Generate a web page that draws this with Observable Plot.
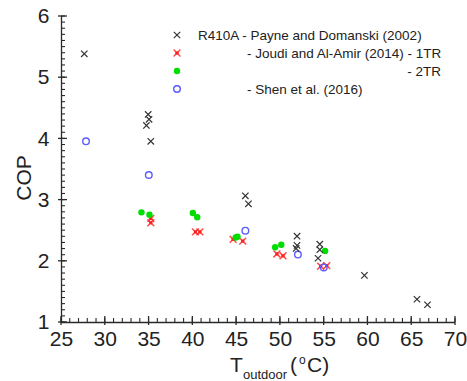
<!DOCTYPE html>
<html><head><meta charset="utf-8">
<script src="https://cdn.jsdelivr.net/npm/d3@7"></script>
<script src="https://cdn.jsdelivr.net/npm/@observablehq/plot@0.6"></script>
<style>
html,body{margin:0;padding:0;background:#fff;}
#chart{width:467px;height:381px;}
svg{display:block;}
</style></head><body><div id="chart"></div>
<script>
// Payne and Domanski (2002) - R410A
const payneT   = [27.6, 34.9, 35.0, 34.7, 35.2, 46.0, 46.35, 51.9, 51.9, 51.8, 54.5, 54.5, 54.3, 59.6, 65.6, 66.8];
const payneCOP = [5.39, 4.40, 4.32, 4.22, 3.96, 3.07, 2.94, 2.41, 2.26, 2.21, 2.28, 2.19, 2.05, 1.77, 1.38, 1.29];
// Joudi and Al-Amir (2014) - 1TR
const joudi1T   = [35.2, 35.2, 40.3, 40.8, 44.6, 45.7, 49.6, 50.3, 54.6, 55.3];
const joudi1COP = [2.70, 2.63, 2.48, 2.48, 2.36, 2.33, 2.12, 2.09, 1.92, 1.93];
// Joudi and Al-Amir (2014) - 2TR
const joudi2T   = [34.13, 35.05, 40.0, 40.5, 44.9, 45.1, 49.4, 50.1, 55.1];
const joudi2COP = [2.80, 2.76, 2.79, 2.72, 2.39, 2.40, 2.23, 2.27, 2.17];
// Shen et al. (2016)
const shenT   = [27.8, 34.97, 46.0, 52.0, 54.95];
const shenCOP = [3.96, 3.41, 2.50, 2.11, 1.90];

const xTicks = [25, 30, 35, 40, 45, 50, 55, 60, 65, 70];
const yTicks = [1, 2, 3, 4, 5, 6];
const legendLabels = ["R410A - Payne and Domanski (2002)", "- Joudi and Al-Amir (2014) - 1TR", "- 2TR", "- Shen et al. (2016)"];

const xMinor = d3.range(25, 70.001, 1);
const yMinor = d3.range(1, 6.0001, 0.1);

const toRows = (xs, ys) => xs.map((x, i) => ({x, y: ys[i]}));
const payne = toRows(payneT, payneCOP);
const joudi1 = toRows(joudi1T, joudi1COP);
const joudi2 = toRows(joudi2T, joudi2COP);
const shen = toRows(shenT, shenCOP);

const FONT = "Arial, 'Liberation Sans', Helvetica, sans-serif";
const AX = "#2a2a2a";
const C_BLACK = "#333", C_RED = "#ff2020", C_GREEN = "#00dd00", C_BLUE = "#5b5bff";

const W = 467, H = 381, ML = 61, MR = 12, MT = 16, MB = 59;
const xDom = [25, 70], yDom = [1, 6];

const plot = Plot.plot({
  width: W, height: H,
  marginLeft: ML, marginRight: MR, marginTop: MT, marginBottom: MB,
  style: {fontFamily: FONT, fontSize: "21px", background: "#fff", color: AX, overflow: "visible"},
  x: {domain: xDom, label: null},
  y: {domain: yDom, label: null},
  marks: [
    Plot.axisX({ticks: xTicks, tickSize: 0, tickPadding: 9, tickFormat: d => String(d), label: null, fill: "#222"}),
    Plot.axisY({ticks: yTicks, tickSize: 0, tickPadding: 12, tickFormat: d => String(d), label: null, fill: "#222"}),
    Plot.ruleX([xDom[0]], {stroke: AX, strokeWidth: 1.3}),
    Plot.ruleY([yDom[0]], {stroke: AX, strokeWidth: 1.3}),
    // Joudi 1TR: red star (filled square + x)
    Plot.dot(joudi1, {x: "x", y: "y", symbol: "square", r: 1.8, fill: C_RED, stroke: "none"}),
    Plot.dot(joudi1, {x: "x", y: "y", symbol: "times", r: 3.2, stroke: C_RED, strokeWidth: 1.5, strokeOpacity: 0.8}),
    // Joudi 2TR: green filled circle
    Plot.dot(joudi2, {x: "x", y: "y", r: 3.2, fill: C_GREEN, stroke: "none"}),
    // Shen: blue hollow circle
    Plot.dot(shen, {x: "x", y: "y", r: 3.3, fill: "none", stroke: C_BLUE, strokeWidth: 1.4}),
    // Payne: black x
    Plot.dot(payne, {x: "x", y: "y", symbol: "times", r: 3.0, stroke: C_BLACK, strokeWidth: 1.2})
  ]
});
document.getElementById("chart").appendChild(plot);

const svg = d3.select(plot);
// inward tick marks, placed with Plot's own scales
const sx = plot.scale("x"), sy = plot.scale("y");
const fx = v => sx.apply ? sx.apply(v) : d3.scaleLinear(sx.domain, sx.range)(v);
const fy = v => sy.apply ? sy.apply(v) : d3.scaleLinear(sy.domain, sy.range)(v);
const x0 = fx(xDom[0]), y0 = fy(yDom[0]);
const tg = svg.append("g");
const line = (x1, y1, x2, y2, w) => tg.append("path")
  .attr("d", `M${x1},${y1}L${x2},${y2}`)
  .attr("fill", "none").attr("stroke", AX).attr("stroke-width", w);
xMinor.forEach(v => line(fx(v), y0, fx(v), y0 - 4, 1.1));
yMinor.forEach(v => line(x0, fy(v), x0 + 4, fy(v), 1.1));
xTicks.forEach(v => line(fx(v), y0 + 3, fx(v), y0 - 6, 1.3));
yTicks.forEach(v => line(x0 - 3, fy(v), x0 + 6, fy(v), 1.3));

const T = (x, y, size, txt, anchor = "start") => svg.append("text")
  .attr("x", x).attr("y", y).attr("text-anchor", anchor)
  .attr("font-family", FONT).attr("font-size", size).attr("fill", "#222").text(txt);
// Axis titles
svg.append("text")
  .attr("transform", "translate(31,178) rotate(-90)")
  .attr("text-anchor", "middle")
  .attr("font-family", FONT).attr("font-size", 21).attr("fill", "#222")
  .text("COP");
T(230, 372, 21, "T");
T(243, 379, 13, "outdoor");
T(290, 372, 21, "(");
T(299, 364, 12, "o");
T(307, 372, 21, "C)");

// Legend
const lg = svg.append("g").attr("font-family", FONT).attr("font-size", 13.5).attr("fill", "#222").attr("text-anchor", "start");
const rowsY = [35, 53, 71, 89];
const mx = 177;
const sym = (type, r) => d3.symbol().type(type).size(Math.PI * r * r)();
lg.append("path").attr("transform", `translate(${mx},${rowsY[0]})`).attr("d", sym(d3.symbolTimes, 3.0))
  .attr("fill", "none").attr("stroke", C_BLACK).attr("stroke-width", 1.2);
lg.append("path").attr("transform", `translate(${mx},${rowsY[1]})`).attr("d", sym(d3.symbolSquare, 1.8))
  .attr("fill", C_RED);
lg.append("path").attr("transform", `translate(${mx},${rowsY[1]})`).attr("d", sym(d3.symbolTimes, 3.2))
  .attr("fill", "none").attr("stroke", C_RED).attr("stroke-width", 1.5).attr("stroke-opacity", 0.8);
lg.append("path").attr("transform", `translate(${mx},${rowsY[2]})`).attr("d", sym(d3.symbolCircle, 3.2))
  .attr("fill", C_GREEN);
lg.append("path").attr("transform", `translate(${mx},${rowsY[3]})`).attr("d", sym(d3.symbolCircle, 3.3))
  .attr("fill", "none").attr("stroke", C_BLUE).attr("stroke-width", 1.4);

lg.append("text").attr("x", 198).attr("y", rowsY[0] + 4.5).text(legendLabels[0]);
lg.append("text").attr("x", 247).attr("y", rowsY[1] + 4.5).text(legendLabels[1]);
lg.append("text").attr("x", 441).attr("y", rowsY[2] + 4.5).attr("text-anchor", "end").text(legendLabels[2]);
lg.append("text").attr("x", 247).attr("y", rowsY[3] + 4.5).text(legendLabels[3]);
</script>
</body></html>
